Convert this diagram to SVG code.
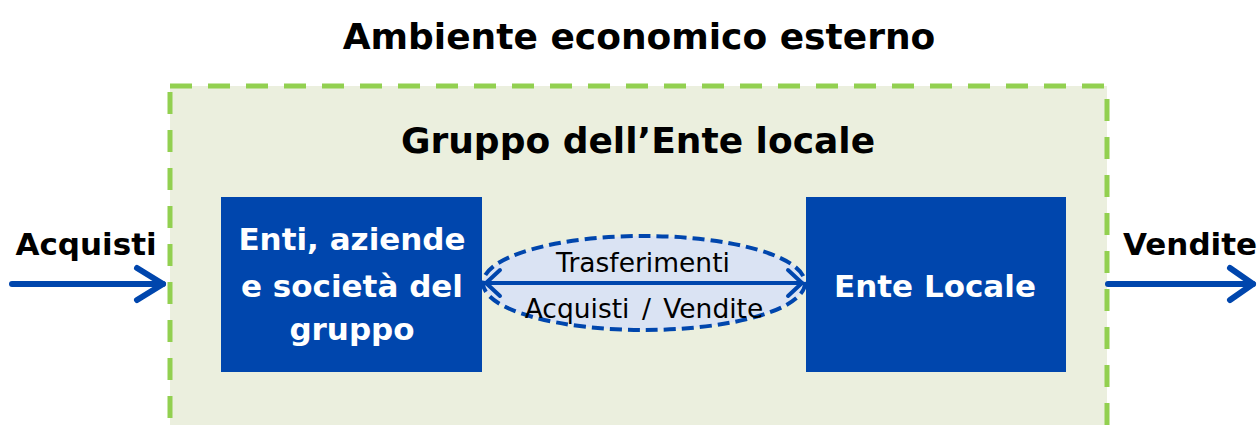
<svg xmlns="http://www.w3.org/2000/svg" width="1258" height="425" viewBox="0 0 1258 425">
<defs>
<style>
text{font-family:"DejaVu Sans","Liberation Sans",sans-serif;font-weight:bold}
.title{font-size:36px;fill:#000}
.wt{font-size:31px;fill:#fff}
.lbl{font-size:31px;fill:#000}
.small{font-size:26.5px;fill:#000;font-weight:normal}
.box{fill:#0046AD}
.arrow{stroke:#0046AD;stroke-width:6;fill:none;stroke-linecap:round;stroke-linejoin:round}
</style>
</defs>
<text class="title" x="639" y="49" text-anchor="middle">Ambiente economico esterno</text>
<g id="gruppo">
<rect x="170" y="86" width="937" height="350" fill="#EBEFDE" stroke="#92D050" stroke-width="5" stroke-dasharray="22,16"/>
<text class="title" x="638" y="153" text-anchor="middle">Gruppo dell’Ente locale</text>
</g>
<g id="enti">
<rect class="box" x="221" y="197" width="261" height="175"/>
<text class="wt" x="352" y="250" text-anchor="middle">Enti, aziende</text>
<text class="wt" x="352" y="297" text-anchor="middle">e società del</text>
<text class="wt" x="352" y="340" text-anchor="middle">gruppo</text>
</g>
<g id="ente-locale">
<rect class="box" x="806" y="197" width="260" height="175"/>
<text class="wt" x="935" y="297" text-anchor="middle">Ente Locale</text>
</g>
<g id="scambi">
<ellipse cx="644" cy="283" rx="161" ry="47" fill="#DAE3F3" stroke="#0046AD" stroke-width="4" stroke-dasharray="12,6"/>
<text class="small" x="643" y="272" text-anchor="middle">Trasferimenti</text>
<text class="small" x="644" y="318" text-anchor="middle" style="word-spacing:4px">Acquisti / Vendite</text>
</g>
<g id="connectors">
<line class="arrow" x1="486" y1="283" x2="802" y2="283" style="stroke-width:4"/>
<polyline class="arrow" points="500,270 486,283 500,296" style="stroke-width:4"/>
<polyline class="arrow" points="788,270 802,283 788,296" style="stroke-width:4"/>
<line class="arrow" x1="12" y1="284" x2="163" y2="284"/>
<polyline class="arrow" points="137,268 163,284 137,300"/>
<line class="arrow" x1="1108" y1="284" x2="1253" y2="284"/>
<polyline class="arrow" points="1230,268 1253,284 1230,300"/>
</g>
<text class="lbl" x="86" y="255" text-anchor="middle">Acquisti</text>
<text class="lbl" x="1123" y="255">Vendite</text>
</svg>
